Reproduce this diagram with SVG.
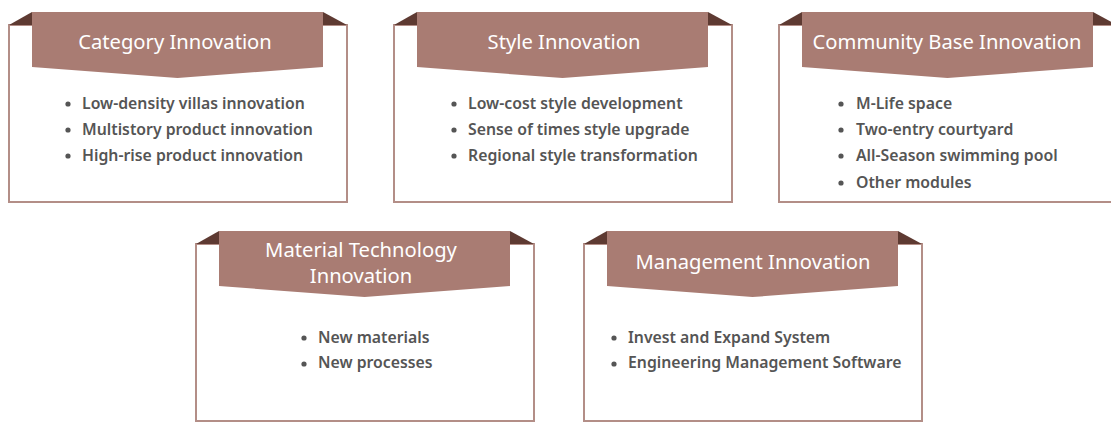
<svg xmlns="http://www.w3.org/2000/svg" xmlns:xlink="http://www.w3.org/1999/xlink" width="1111" height="422" viewBox="0 0 1111 422">
<style>
.frame{fill:#ffffff;stroke:#b38e87;stroke-width:2}
.banner{fill:#a97c73}
.fold{fill:#5e3a32}
.title{font-family:"Noto Sans","Open Sans",sans-serif;font-size:20.2px;fill:#ffffff;text-anchor:middle}
.item{font-family:"Noto Sans","Open Sans",sans-serif;font-size:15.8px;font-weight:600;fill:#555555}
.dot{fill:#555555}
</style>
<defs>
<g id="card">
<rect class="frame" x="0" y="13" width="338" height="177"/>
<polygon class="fold" points="0,13 23,0 23,13"/>
<polygon class="fold" points="314,0 338,13 314,13"/>
<polygon class="banner" points="23,0 314,0 314,55 168.5,66 23,55"/>
</g>
</defs>
<rect width="1111" height="422" fill="#ffffff"/>
<g id="connectors"/>
<g id="category">
<use xlink:href="#card" x="9" y="12"/>
<text class="title" x="175" y="49">Category Innovation</text>
<circle class="dot" cx="68" cy="104" r="2.6"/><text class="item" x="82" y="109">Low-density villas innovation</text>
<circle class="dot" cx="68" cy="130" r="2.6"/><text class="item" x="82" y="135">Multistory product innovation</text>
<circle class="dot" cx="68" cy="156" r="2.6"/><text class="item" x="82" y="161">High-rise product innovation</text>
</g>
<g id="style">
<use xlink:href="#card" x="394" y="12"/>
<text class="title" x="564" y="49">Style Innovation</text>
<circle class="dot" cx="454" cy="104" r="2.6"/><text class="item" x="468" y="109">Low-cost style development</text>
<circle class="dot" cx="454" cy="130" r="2.6"/><text class="item" x="468" y="135">Sense of times style upgrade</text>
<circle class="dot" cx="454" cy="156" r="2.6"/><text class="item" x="468" y="161">Regional style transformation</text>
</g>
<g id="community">
<use xlink:href="#card" x="779" y="12"/>
<text class="title" x="947" y="49">Community Base Innovation</text>
<circle class="dot" cx="841" cy="104" r="2.6"/><text class="item" x="856" y="109">M-Life space</text>
<circle class="dot" cx="841" cy="130" r="2.6"/><text class="item" x="856" y="135">Two-entry courtyard</text>
<circle class="dot" cx="841" cy="156" r="2.6"/><text class="item" x="856" y="161">All-Season swimming pool</text>
<circle class="dot" cx="841" cy="183" r="2.6"/><text class="item" x="856" y="188">Other modules</text>
</g>
<g id="material">
<use xlink:href="#card" x="196" y="231"/>
<text class="title" x="361" y="257">Material Technology</text>
<text class="title" x="361" y="283">Innovation</text>
<circle class="dot" cx="304" cy="338" r="2.6"/><text class="item" x="318" y="343">New materials</text>
<circle class="dot" cx="304" cy="364" r="2.6"/><text class="item" x="318" y="368">New processes</text>
</g>
<g id="management">
<use xlink:href="#card" x="584" y="231"/>
<text class="title" x="753" y="269">Management Innovation</text>
<circle class="dot" cx="614" cy="338" r="2.6"/><text class="item" x="628" y="343">Invest and Expand System</text>
<circle class="dot" cx="614" cy="364" r="2.6"/><text class="item" x="628" y="368">Engineering Management Software</text>
</g>
</svg>
